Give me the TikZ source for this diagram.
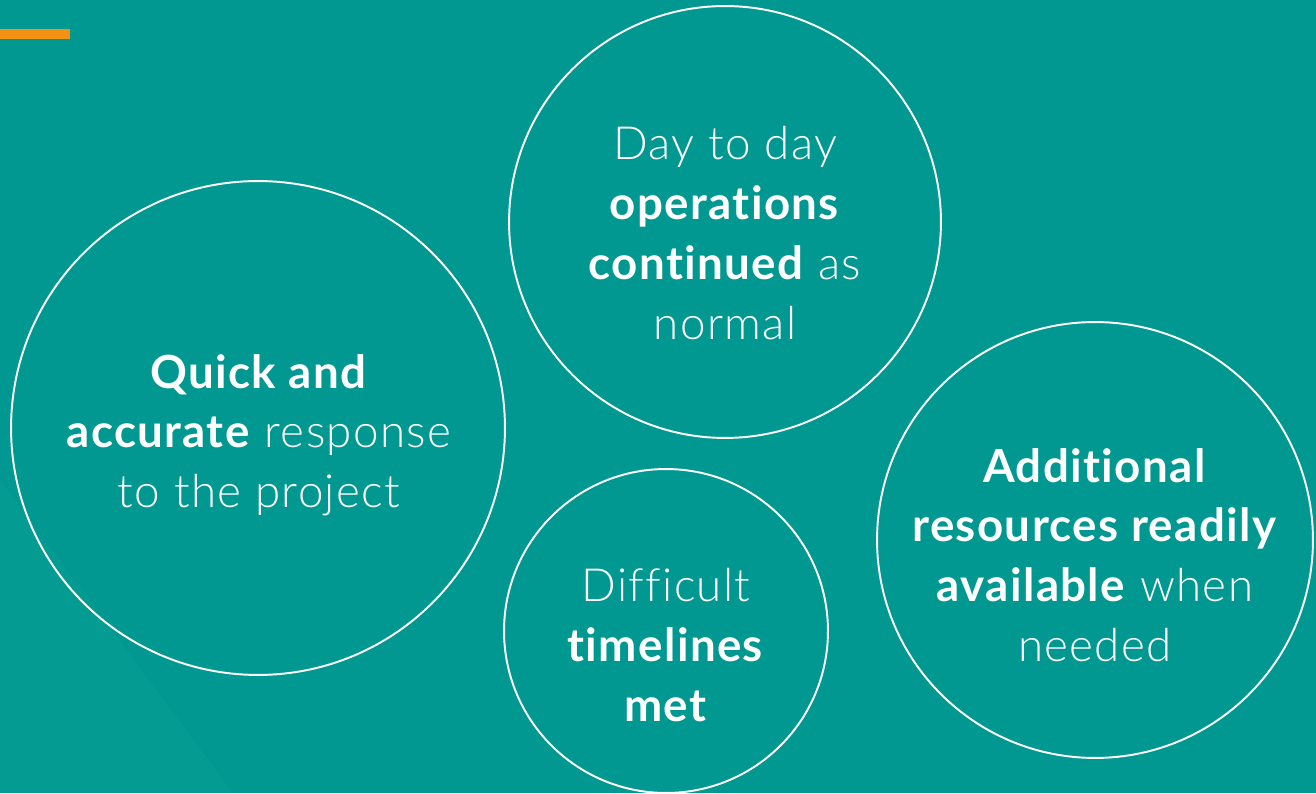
\documentclass[tikz,border=0pt]{standalone}
\usepackage{fontspec}
\setmainfont{Lato Light}[BoldFont=Lato Bold,Ligatures=CommonOff,LetterSpace=3]
\definecolor{tealbg}{HTML}{009891}
\definecolor{tealshade}{HTML}{049B92}
\definecolor{barorange}{HTML}{F39114}
\begin{document}
\begin{tikzpicture}[x=0.02cm,y=-0.02cm,
  bubble/.style={circle,draw=white,line width=1.1pt,inner sep=0pt},
  words/.style={text=white,align=center,inner sep=0pt,font=\fontsize{26}{34}\selectfont}]
\fill[tealbg] (0,0) rectangle (1316,793);
\fill[tealshade] (0,480) -- (233,793) -- (0,793) -- cycle;
\fill[barorange] (0,29) rectangle (70,39);
\node[bubble,minimum size=9.88cm] (quick) at (258,428) {};
\node[bubble,minimum size=8.64cm] (daily) at (725,222) {};
\node[bubble,minimum size=6.48cm] (time) at (666,631) {};
\node[bubble,minimum size=8.72cm] (extra) at (1095,540) {};
\node[words] (quick-txt) at (259,435) {\textbf{Quick and}\\\textbf{accurate} response\\to the project};
\node[words] (daily-txt) at (725,233) {Day to day\\\textbf{operations}\\\textbf{continued} as\\normal};
\node[words] (time-txt) at (666,645) {Difficult\\\textbf{timelines}\\\textbf{met}};
\node[words] (extra-txt) at (1095,555) {\textbf{Additional}\\\textbf{resources readily}\\\textbf{available} when\\needed};
\end{tikzpicture}
\end{document}
